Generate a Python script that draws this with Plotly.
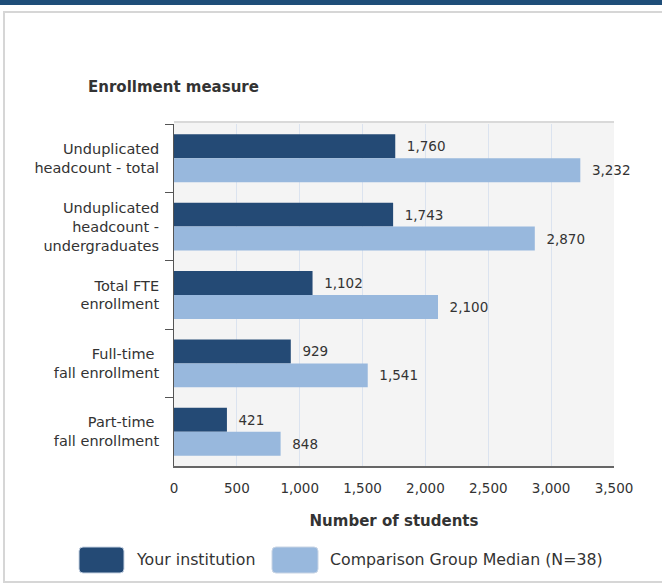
import plotly.graph_objects as go

categories = ["Unduplicated<br>headcount - total",
              "Unduplicated<br>headcount -<br>undergraduates",
              "Total FTE<br>enrollment",
              "Full-time <br>fall enrollment",
              "Part-time <br>fall enrollment"]
your_institution = [1760, 1743, 1102, 929, 421]
comparison_median = [3232, 2870, 2100, 1541, 848]
series_names = ["Your institution", "Comparison Group Median (N=38)"]
x_ticks = [0, 500, 1000, 1500, 2000, 2500, 3000, 3500]
colors = ["#244a75", "#98b8dd"]

W, H = 662, 584
L, R, T, B = 174, 48, 124, 118
pw, ph = W - L - R, H - T - B

def px(x):
    return (x - L) / pw

def py(y):
    return (H - B - y) / ph

def rounded_rect(x0, y0, x1, y1, r):
    # pixel coords -> paper path with rounded corners
    rx, ry = r / pw, r / ph
    a0, a1 = px(x0), px(x1)
    b0, b1 = py(y1), py(y0)  # bottom, top in paper
    return (f"M {a0+rx},{b0} L {a1-rx},{b0} Q {a1},{b0} {a1},{b0+ry} "
            f"L {a1},{b1-ry} Q {a1},{b1} {a1-rx},{b1} L {a0+rx},{b1} "
            f"Q {a0},{b1} {a0},{b1-ry} L {a0},{b0+ry} Q {a0},{b0} {a0+rx},{b0} Z")

FONT = "DejaVu Sans, Verdana, sans-serif"
TXT = "#333333"
NB = "\u00a0\u00a0"

fig = go.Figure()
for name, vals, col in zip(series_names, [your_institution, comparison_median], colors):
    fig.add_trace(go.Bar(
        y=categories, x=vals, orientation="h", name=name,
        marker=dict(color=col, line=dict(width=0)),
        text=[NB + f"{v:,}" for v in vals], textposition="outside",
        textfont=dict(size=13.5, color=TXT, family=FONT),
        cliponaxis=False, showlegend=False,
    ))

shapes = [
    dict(type="rect", xref="paper", yref="paper", x0=px(4), x1=px(663), y0=py(582), y1=py(12),
         line=dict(color="#d6d6d6", width=2), fillcolor="rgba(0,0,0,0)", layer="below"),
    dict(type="rect", xref="paper", yref="paper", x0=px(0), x1=px(662), y0=py(5), y1=py(0),
         line=dict(width=0), fillcolor="#1f4e79"),
    dict(type="rect", xref="paper", yref="paper", x0=0, x1=1, y0=1, y1=py(121.5),
         line=dict(width=0), fillcolor="#f4f4f4", layer="below"),
    dict(type="line", xref="paper", yref="paper", x0=0, x1=1, y0=py(122), y1=py(122),
         line=dict(color="#d9d9d9", width=2)),
]
annotations = [
    dict(text="Enrollment measure", xref="paper", yref="paper", x=px(86), y=py(87),
         xanchor="left", yanchor="middle", showarrow=False,
         font=dict(size=15, color=TXT, family=FONT, weight="bold")),
]
leg = [(79, 124, 134), (272, 318, 328)]
for (x0, x1, tx), name, col in zip(leg, series_names, colors):
    shapes.append(dict(type="path", xref="paper", yref="paper",
                       path=rounded_rect(x0, 547, x1, 573, 4), fillcolor=col,
                       line=dict(color="#c8d4e4", width=1)))
    annotations.append(dict(text=name, xref="paper", yref="paper", x=px(tx), y=py(559),
                            xanchor="left", yanchor="middle", showarrow=False,
                            font=dict(size=15.8, color=TXT, family=FONT)))

fig.update_layout(
    width=W, height=H,
    margin=dict(l=L, r=R, t=T, b=B, autoexpand=False),
    paper_bgcolor="white", plot_bgcolor="#f4f4f4",
    barmode="group", bargap=0.3, bargroupgap=0.0,
    font=dict(family=FONT, color=TXT),
    shapes=shapes, annotations=annotations,
    xaxis=dict(range=[0, 3500], tickvals=x_ticks, ticktext=[f"{v:,}" for v in x_ticks],
               showgrid=True, gridcolor="#dbe3ef", gridwidth=1, zeroline=False,
               showline=True, linecolor="#666666", linewidth=1.5,
               tickfont=dict(size=13.5, color=TXT), ticklabelstandoff=9,
               title=dict(text="Number of students",
                          font=dict(size=15, color=TXT, weight="bold"), standoff=21)),
    yaxis=dict(autorange="reversed", showline=True, linecolor="#555555", linewidth=1,
               ticks="outside", tickson="boundaries", ticklen=8, tickcolor="#555555",
               tickfont=dict(size=14.5, color=TXT), ticklabelstandoff=11, showgrid=False),
)

fig.write_html("out.html", config={"displayModeBar": False},
               post_script="document.body.style.margin='0';document.body.style.overflow='hidden';")
